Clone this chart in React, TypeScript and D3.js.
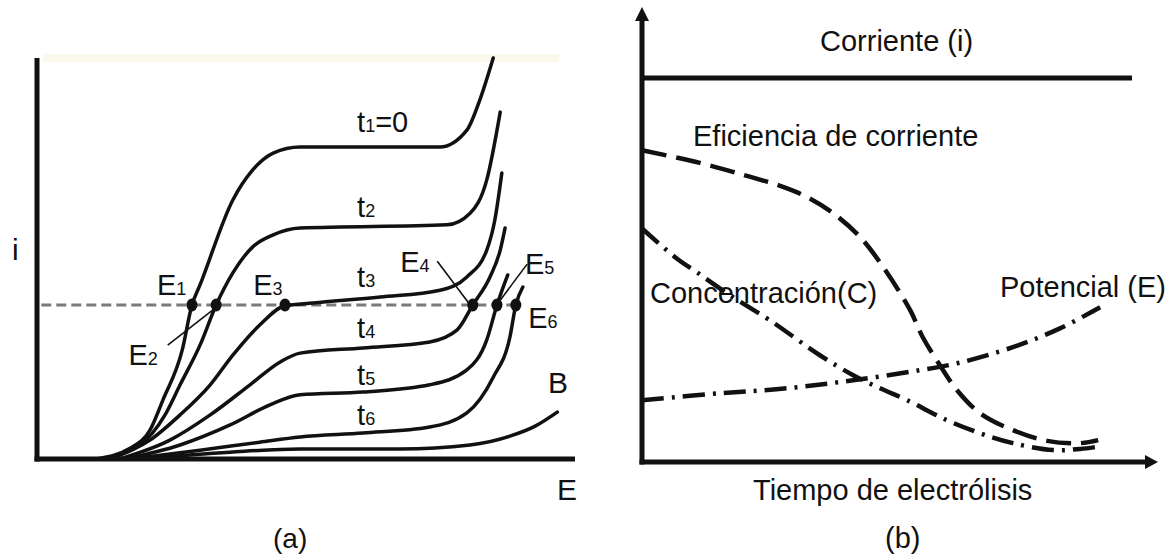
import React from 'react';
import * as d3 from 'd3';

type Pt = [number, number];

// ---------- Panel (a): i vs E curves (E, i in 0..100 units) ----------
const curveT1: Pt[] = [[10.8,0],[17.3,2.7],[21.0,7.2],[23.4,14.7],[27.0,27.2],[28.8,38.4],[30.3,43.4],[36.4,64.6],[40.1,72.1],[43.9,76.3],[48.9,77.8],[74.9,77.8],[79.9,82.0],[82.3,89.5],[84.8,100]];
const curveT2: Pt[] = [[11.7,0],[19.1,3.5],[23.8,11.0],[26.6,18.5],[30.3,28.4],[33.3,38.4],[36.4,46.4],[40.1,52.9],[43.9,55.9],[48.9,57.6],[76.2,58.4],[80.5,61.3],[83.6,69.6],[86.1,86.5]];
const curveT3: Pt[] = [[13.6,0],[21.0,4.7],[26.6,11.0],[32.2,18.5],[36.4,25.9],[41.4,33.4],[46.1,38.2],[51.3,38.9],[63.8,40.4],[74.9,42.1],[79.9,45.4],[83.6,52.1],[85.1,59.6],[86.4,71.3]];
const curveT4: Pt[] = [[15.4,0],[24.7,4.7],[32.2,11.0],[39.6,18.5],[45.2,24.2],[48.9,26.4],[60.6,27.7],[73.0,29.2],[78.1,32.2],[81.0,38.4],[84.2,45.4],[86.1,52.1],[87.0,57.6]];
const curveT5: Pt[] = [[16.4,0],[26.6,3.5],[35.9,8.5],[43.3,13.5],[48.9,16.0],[60.6,16.7],[73.0,18.5],[79.9,22.2],[83.6,29.7],[85.5,38.4],[87.5,45.9]];
const curveT6: Pt[] = [[17.3,0],[30.3,2.2],[41.4,4.2],[48.9,5.5],[60.6,6.5],[73.0,8.0],[79.9,11.5],[84.8,20.4],[87.9,30.4],[89.0,38.4],[90.3,42.9]];
const curveB: Pt[] = [[19.1,0],[35.9,1.7],[48.9,2.5],[67.5,2.5],[80.5,3.5],[87.9,5.7],[92.6,8.2],[96.7,11.7]];
const aCurves: Pt[][] = [curveT1, curveT2, curveT3, curveT4, curveT5, curveT6, curveB];

const thresholdI = 38.4;
const crossingE = [28.8, 33.3, 46.1, 81.0, 85.5, 89.0];

// label text: [main, subscript, rest]
const tLabels: [string, string, string][] = [['t','1','=0'],['t','2',''],['t','3',''],['t','4',''],['t','5',''],['t','6','']];
const tLabelPos: Pt[] = [[59.5,81.5],[59.5,60.4],[59.5,42.9],[59.5,30.2],[59.5,18.5],[59.5,8.5]];
const eLabels: [string, string][] = [['E','1'],['E','2'],['E','3'],['E','4'],['E','5'],['E','6']];
const eLabelPos: Pt[] = [[22.3,40.9],[17.0,23.4],[40.2,40.9],[67.5,46.6],[90.7,46.1],[91.3,32.7]];
const leaders: [Pt, Pt][] = [[[24.3,28.4],[32.7,37.2]],[[74.4,49.3],[80.9,37.7]],[[91.1,48.6],[86.1,39.6]]];

// ---------- Panel (b): time evolution (t, value in 0..100 units) ----------
const corriente: Pt[] = [[0,100],[100,100]];
const eficiencia: Pt[] = [[0,81.2],[11.8,77.9],[21.4,74.5],[28.2,71.9],[33.7,69.0],[39.0,64.8],[44.5,58.6],[49.2,50.8],[54.7,39.6],[57.3,32.5],[60.8,25.2],[64.3,18.7],[69.0,12.7],[75.7,8.3],[82.7,5.5],[89.4,4.9],[93.1,5.7]];
const concentracion: Pt[] = [[0,60.8],[7.1,53.0],[11.2,49.4],[18.0,43.4],[26.1,36.9],[36.3,27.8],[43.1,22.6],[48.6,19.2],[54.1,16.1],[62.2,10.9],[69.0,7.5],[75.7,4.9],[83.9,3.1],[89.4,3.4],[93.1,4.0]];
const potencial: Pt[] = [[0,16.1],[15.9,17.9],[29.6,19.2],[43.1,21.3],[56.7,23.9],[64.3,25.7],[75.7,29.9],[85.3,34.8],[93.5,40.3]];

const FONT = '"Liberation Sans", Arial, Helvetica, sans-serif';
const INK = '#111';

export default function App() {
  const xa = d3.scaleLinear().domain([0, 100]).range([37, 575]);
  const ya = d3.scaleLinear().domain([0, 100]).range([459, 58]);
  const xb = d3.scaleLinear().domain([0, 100]).range([642, 1132]);
  const yb = d3.scaleLinear().domain([0, 100]).range([462, 78]);

  const lineA = d3.line<Pt>().x(d => xa(d[0])).y(d => ya(d[1])).curve(d3.curveMonotoneX);
  const lineB = d3.line<Pt>().x(d => xb(d[0])).y(d => yb(d[1])).curve(d3.curveCatmullRom.alpha(0.5));

  return (
    <svg width={1176} height={558} style={{ position: 'absolute', left: 0, top: 0, background: '#fff' }} fontFamily={FONT}>
      <rect x={0} y={0} width={1176} height={558} fill="#fff" />
      {/* ===== Panel (a) ===== */}
      <rect x={xa(1)} y={ya(100) - 4} width={xa(97) - xa(1)} height={8} fill="#fbf9ec" />
      {/* dashed threshold */}
      <line x1={xa(0.8)} x2={xa(89)} y1={ya(thresholdI)} y2={ya(thresholdI)} stroke="#7a7a7a" strokeWidth={3} strokeDasharray="10 5" />
      {aCurves.map((c, k) => (
        <path key={k} d={lineA(c) || ''} fill="none" stroke={INK} strokeWidth={3.5} strokeLinecap="round" />
      ))}
      {crossingE.map((e, k) => (
        <ellipse key={k} cx={xa(e)} cy={ya(thresholdI)} rx={5.5} ry={6.5} fill={INK} />
      ))}
      {leaders.map((l, k) => (
        <line key={k} x1={xa(l[0][0])} y1={ya(l[0][1])} x2={xa(l[1][0])} y2={ya(l[1][1])} stroke={INK} strokeWidth={1.6} />
      ))}
      {/* axes */}
      <line x1={xa(0)} x2={xa(0)} y1={ya(100)} y2={ya(0) + 2.5} stroke={INK} strokeWidth={5} />
      <line x1={xa(0) - 2.5} x2={xa(100)} y1={ya(0)} y2={ya(0)} stroke={INK} strokeWidth={5} />
      {tLabels.map((t, k) => (
        <text key={k} x={xa(tLabelPos[k][0])} y={ya(tLabelPos[k][1])} fontSize={29} fill={INK}>
          {t[0]}<tspan fontSize={18}>{t[1]}</tspan>{t[2]}
        </text>
      ))}
      {eLabels.map((t, k) => (
        <text key={k} x={xa(eLabelPos[k][0])} y={ya(eLabelPos[k][1])} fontSize={29} fill={INK}>
          {t[0]}<tspan fontSize={18}>{t[1]}</tspan>
        </text>
      ))}
      <text x={xa(95)} y={ya(16.5)} fontSize={30} fill={INK}>B</text>
      <text x={12} y={260} fontSize={30} fill={INK}>i</text>
      <text x={557} y={500} fontSize={30} fill={INK}>E</text>
      <text x={273} y={548} fontSize={28} fill={INK}>(a)</text>

      {/* ===== Panel (b) ===== */}
      <path d={lineB(corriente) || ''} fill="none" stroke={INK} strokeWidth={5} />
      <path d={lineB(eficiencia) || ''} fill="none" stroke={INK} strokeWidth={4.5} strokeDasharray="25 10" />
      <path d={lineB(concentracion) || ''} fill="none" stroke={INK} strokeWidth={4.5} strokeDasharray="22 8 3 8" />
      <path d={lineB(potencial) || ''} fill="none" stroke={INK} strokeWidth={4.5} strokeDasharray="22 8 3 8" />
      {/* axes with arrows */}
      <line x1={xb(0)} x2={xb(0)} y1={18} y2={yb(0) + 2.5} stroke={INK} strokeWidth={5} />
      <line x1={xb(0) - 2.5} x2={1148} y1={yb(0)} y2={yb(0)} stroke={INK} strokeWidth={5} />
      <path d={`M${xb(0)},7 L${xb(0) - 7},21 L${xb(0) + 7},21 Z`} fill={INK} />
      <path d={`M1158,${yb(0)} L1145,${yb(0) - 7} L1145,${yb(0) + 7} Z`} fill={INK} />
      <text x={820} y={51} fontSize={29} fill={INK}>Corriente (i)</text>
      <text x={693} y={146} fontSize={29} fill={INK}>Eficiencia de corriente</text>
      <text x={650} y={303} fontSize={29} fill={INK}>Concentración(C)</text>
      <text x={1000} y={297} fontSize={29} fill={INK}>Potencial (E)</text>
      <text x={753} y={500} fontSize={29} fill={INK}>Tiempo de electrólisis</text>
      <text x={885} y={548} fontSize={29} fill={INK}>(b)</text>
    </svg>
  );
}
